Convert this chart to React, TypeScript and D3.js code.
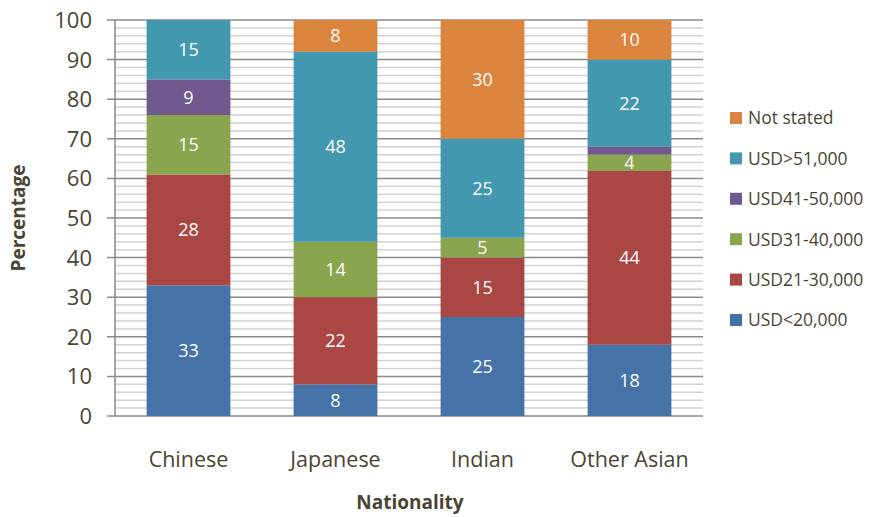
import * as d3 from "d3";

const nationalities = ["Chinese", "Japanese", "Indian", "Other Asian"];
const bands = ["USD<20,000", "USD21-30,000", "USD31-40,000", "USD41-50,000", "USD>51,000", "Not stated"];
const under20 = [33, 8, 25, 18];
const from21to30 = [28, 22, 15, 44];
const from31to40 = [15, 14, 5, 4];
const from41to50 = [9, 0, 0, 2];
const over51 = [15, 48, 25, 22];
const notStated = [0, 8, 30, 10];
const yTicks = [0, 10, 20, 30, 40, 50, 60, 70, 80, 90, 100];

const colors = ["#4572A7", "#AA4643", "#89A54E", "#71588F", "#4198AF", "#DB843D"];
const series = [under20, from21to30, from31to40, from41to50, over51, notStated];

export default function App() {
  const W = 871,
    H = 517;
  const m = { left: 115, right: 168, top: 20, bottom: 101 };
  const textColor = "#4a4530";
  const font = "'Open Sans', sans-serif";

  const rows = nationalities.map((n, i) => {
    const r: Record<string, number | string> = { nat: n };
    bands.forEach((b, j) => (r[b] = series[j][i]));
    return r;
  });
  const stacked = d3.stack<Record<string, any>>().keys(bands)(rows);

  const x = d3
    .scaleBand()
    .domain(nationalities)
    .range([m.left, W - m.right])
    .paddingInner(0.43)
    .paddingOuter(0.215);
  const y = d3.scaleLinear().domain([0, 100]).range([H - m.bottom, m.top]);
  const minor = d3.range(0, 101, 2).filter((v) => v % 10 !== 0);

  return (
    <svg width={W} height={H} style={{ position: "absolute", left: 0, top: 0, background: "#fff" }} fontFamily={font}>
      {/* minor grid */}
      {minor.map((v) => (
        <line key={"n" + v} x1={m.left} x2={W - m.right} y1={y(v)} y2={y(v)} stroke="#d2d2d2" strokeWidth={1.5} />
      ))}
      {/* major grid */}
      {yTicks.map((v) => (
        <line key={"j" + v} x1={m.left - 8} x2={W - m.right} y1={y(v)} y2={y(v)} stroke="#8a8a8a" strokeWidth={1.5} />
      ))}
      <line x1={m.left} x2={m.left} y1={m.top} y2={y(0)} stroke="#8a8a8a" strokeWidth={1.5} />

      {stacked.map((s, j) =>
        s.map((d, i) => {
          const v = d[1] - d[0];
          if (v <= 0) return null;
          const nat = nationalities[i];
          return (
            <g key={j + "-" + i}>
              <rect
                x={x(nat)}
                width={x.bandwidth()}
                y={y(d[1])}
                height={y(d[0]) - y(d[1])}
                fill={colors[j]}
              />
              {v >= 3 && (
                <text
                  x={x(nat)! + x.bandwidth() / 2}
                  y={(y(d[0]) + y(d[1])) / 2}
                  dy="0.36em"
                  textAnchor="middle"
                  fill="#fff"
                  fontSize={18}
                >
                  {v}
                </text>
              )}
            </g>
          );
        })
      )}

      {/* y tick labels */}
      {yTicks.map((v) => (
        <text key={"t" + v} x={m.left - 23} y={y(v)} dy="0.36em" textAnchor="end" fontSize={22} fill={textColor}>
          {v}
        </text>
      ))}
      {/* x labels */}
      {nationalities.map((n) => (
        <text key={n} x={x(n)! + x.bandwidth() / 2} y={467} textAnchor="middle" fontSize={21.5} fill={textColor}>
          {n}
        </text>
      ))}
      <text x={410} y={509} textAnchor="middle" fontSize={19} fontWeight="bold" fill={textColor}>
        Nationality
      </text>
      <text
        transform={`translate(25,${(m.top + y(0)) / 2}) rotate(-90)`}
        textAnchor="middle"
        fontSize={19}
        fontWeight="bold"
        fill={textColor}
      >
        Percentage
      </text>

      {/* legend */}
      {bands
        .slice()
        .reverse()
        .map((b, k) => {
          const cy = 118 + k * 40.4;
          return (
            <g key={b}>
              <rect x={730} y={cy - 6} width={12} height={12} fill={colors[bands.length - 1 - k]} />
              <text x={748} y={cy} dy="0.36em" fontSize={17.5} fill={textColor}>
                {b}
              </text>
            </g>
          );
        })}
    </svg>
  );
}
